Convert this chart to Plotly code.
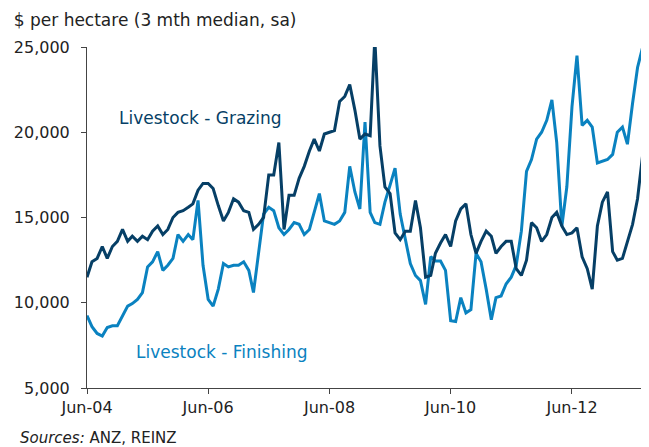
import pandas as pd
import plotly.graph_objects as go

# colours
colors = {
    'grazing': '#063f66',   # dark blue
    'finishing': '#0a82c0', # light blue
    'text': '#222222',
    'axis': '#444444',
}

# monthly data, Jun-04 onwards ($ per hectare, 3 mth median, sa)
start_month = "2004-06-01"
grazing = [11500, 12400, 12600, 13300, 12600, 13300, 13600, 14300, 13600, 13900,
           13600, 13900, 13700, 14200, 14500, 14000, 14300, 15000, 15300, 15400,
           15600, 15800, 16600, 17000, 17000, 16700, 15700, 14800, 15300, 16100,
           15900, 15400, 15300, 14300, 14600, 15000, 17500, 17500, 19400, 14300,
           16300, 16300, 17300, 18000, 18900, 19600, 18900, 19900, 20000, 20100,
           21800, 22100, 22800, 21300, 19600, 19900, 19800, 25500, 19200, 16800,
           16400, 14100, 13700, 14200, 14200, 16000, 14400, 11500, 11600, 12900,
           13500, 14000, 13300, 14800, 15500, 15800, 14000, 12900, 13600, 14200,
           13900, 12900, 13300, 13600, 13600, 12000, 11600, 12500, 14700, 14400,
           13600, 14000, 15000, 15300, 14500, 14000, 14100, 14400, 12700, 12000,
           10800, 14500, 15900, 16500, 13000, 12500, 12600, 13600, 14600, 16100,
           18700, 18500]
finishing = [9250, 8600, 8200, 8050, 8550, 8650, 8650, 9200, 9800, 9950,
             10200, 10600, 12100, 12400, 13000, 11900, 12200, 12600, 14000, 13600,
             14000, 13700, 16000, 12200, 10200, 9800, 10800, 12300, 12100, 12200,
             12200, 12400, 11900, 10600, 13000, 15200, 15600, 15400, 14400, 14000,
             14300, 14700, 14600, 14000, 14300, 15300, 16400, 14800, 14700, 14600,
             14800, 15300, 18000, 16500, 15500, 20600, 15300, 14700, 14600, 15900,
             16900, 17900, 15200, 13700, 12300, 11600, 11300, 9900, 12700, 12450,
             12450, 11900, 8950, 8900, 10300, 9400, 9600, 12900, 12400, 10800,
             9000, 10300, 10400, 11100, 11500, 12200, 14200, 17700, 18400, 19600,
             20000, 20700, 21900, 19400, 14500, 16800, 21500, 24500, 20400, 20700,
             20300, 18200, 18300, 18400, 18700, 20000, 20300, 19300, 21700, 23800,
             25000, 23400]

dates = pd.date_range(start_month, periods=len(grazing), freq="MS")

fig = go.Figure()
fig.add_trace(go.Scatter(x=dates, y=finishing, mode="lines",
                         line=dict(color=colors['finishing'], width=3)))
fig.add_trace(go.Scatter(x=dates, y=grazing, mode="lines",
                         line=dict(color=colors['grazing'], width=3)))

fig.update_xaxes(
    range=["2004-06-01", "2013-09-08"],
    tick0="2004-06-01", dtick="M24", tickformat="%b-%y",
    showline=True, linecolor=colors['axis'], linewidth=1,
    ticks="outside", ticklen=5, tickcolor=colors['axis'],
    showgrid=False, zeroline=False, automargin=False,
)
fig.update_yaxes(
    range=[5000, 25000], dtick=5000, tickformat=",",
    showline=True, linecolor=colors['axis'], linewidth=1,
    ticks="outside", ticklen=5, tickcolor=colors['axis'],
    ticklabelstandoff=8,
    showgrid=False, zeroline=False, automargin=False,
)

fig.add_annotation(text="Livestock - Grazing", xref="paper", yref="paper",
                   x=0.053, y=0.792, xanchor="left", yanchor="middle",
                   showarrow=False, font=dict(size=17, color=colors['grazing']))
fig.add_annotation(text="Livestock - Finishing", xref="paper", yref="paper",
                   x=0.084, y=0.106, xanchor="left", yanchor="middle",
                   showarrow=False, font=dict(size=17, color=colors['finishing']))
fig.add_annotation(text="<i>Sources:</i> ANZ, REINZ", xref="paper", yref="paper",
                   x=-0.123, y=-0.147, xanchor="left", yanchor="middle",
                   showarrow=False, font=dict(size=15, color=colors['text']))

# page body adds an 8px offset, so the figure is sized to fit the window
fig.layout.update(
    title=dict(text="$ per hectare (3 mth median, sa)", x=0.009, y=0.973,
               xanchor="left", yanchor="middle", xref="container", yref="container",
               font=dict(size=17, color=colors['text'])),
    width=641, height=439,
    margin={"l": 79, "r": 0, "t": 39, "b": 59},
    paper_bgcolor="white", plot_bgcolor="white",
    font=dict(family="DejaVu Sans, Verdana, sans-serif", size=16, color=colors['text']),
    showlegend=False,
)

fig.write_html("out.html")
